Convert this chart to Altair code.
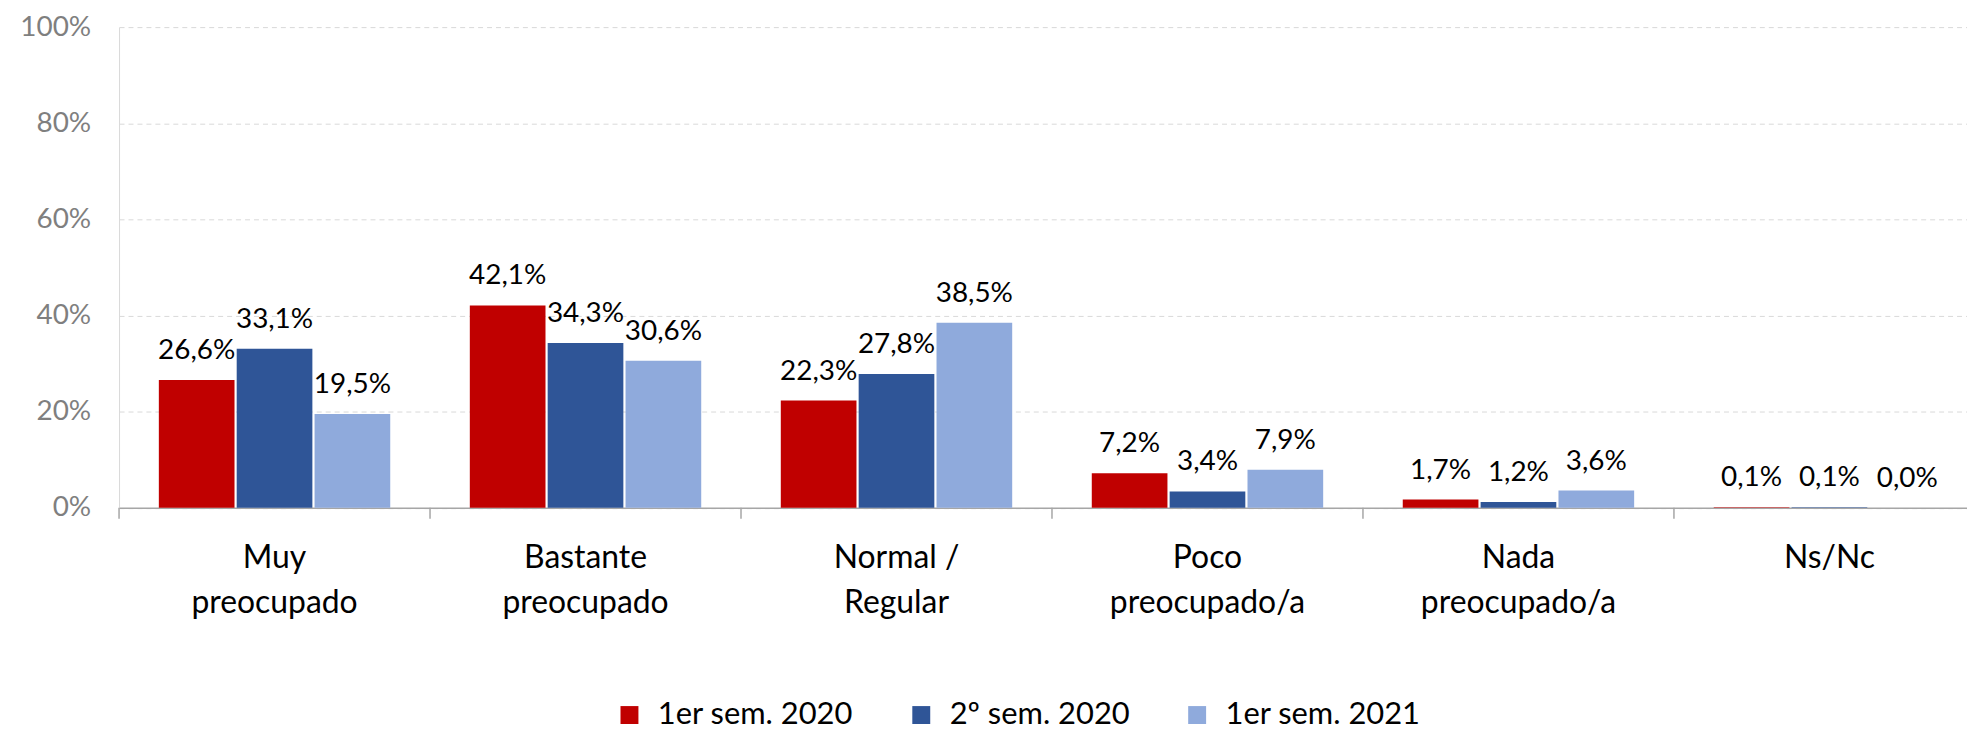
import altair as alt
import pandas as pd

categories = ["Muy\npreocupado", "Bastante\npreocupado", "Normal /\nRegular",
              "Poco\npreocupado/a", "Nada\npreocupado/a", "Ns/Nc"]
series_names = ["1er sem. 2020", "2º sem. 2020", "1er sem. 2021"]
values_2020_1 = [26.6, 42.1, 22.3, 7.2, 1.7, 0.1]
values_2020_2 = [33.1, 34.3, 27.8, 3.4, 1.2, 0.1]
values_2021_1 = [19.5, 30.6, 38.5, 7.9, 3.6, 0.0]
colors = ["#C00000", "#2F5597", "#8FAADC"]
y_ticks = [0, 20, 40, 60, 80, 100]

rows = []
for name, vals in zip(series_names, [values_2020_1, values_2020_2, values_2021_1]):
    for c, v in zip(categories, vals):
        rows.append({"cat": c, "serie": name, "value": v})
df = pd.DataFrame(rows)
df_cats = pd.DataFrame({"cat": categories})

FONT = "Lato"
W = 1855.5
H = 482.6

x_enc = alt.X(
    "cat:N", sort=categories,
    scale=alt.Scale(range=[0, 1873.5], paddingInner=0, paddingOuter=0),
    axis=alt.Axis(title=None, labelAngle=0, ticks=False, domainColor="#A6A6A6",
                  domainWidth=1.5, labelFont=FONT, labelFontSize=32, labelColor="#000000",
                  labelPadding=34.7, labelBaseline="top", labelLineHeight=45,
                  labelExpr="split(datum.label, '\\n')", labelLimit=400, grid=False),
)
xoff = alt.XOffset("serie:N", sort=series_names,
                   scale=alt.Scale(paddingInner=0.028, paddingOuter=0.511))
y_enc = alt.Y(
    "value:Q", scale=alt.Scale(domain=[0, 100], nice=False),
    axis=alt.Axis(title=None, values=y_ticks, labelExpr="datum.value + '%'",
                  ticks=False, domainColor="#D9D9D9", grid=True, gridColor="#D9D9D9",
                  gridDash=[5, 4], labelFont=FONT, labelFontSize=28,
                  labelColor="#7F7F7F", labelPadding=28.5),
)
color_enc = alt.Color(
    "serie:N", sort=series_names,
    scale=alt.Scale(domain=series_names, range=colors),
    legend=alt.Legend(title=None, orient="none", legendX=497, legendY=675,
                      direction="horizontal", symbolType="square", symbolSize=324,
                      symbolStrokeWidth=0, labelFont=FONT, labelFontSize=31,
                      labelColor="#000000", labelOffset=13, columnPadding=52,
                      labelLimit=400, padding=0),
)

bars = alt.Chart(df).mark_bar().encode(x=x_enc, xOffset=xoff, y=y_enc, color=color_enc)

labels = alt.Chart(df).transform_calculate(
    label="replace(format(datum.value, '.1f'), '.', ',') + '%'"
).mark_text(baseline="alphabetic", dy=-21, font=FONT, fontSize=28, color="#000000").encode(
    x=alt.X("cat:N", sort=categories), xOffset=alt.XOffset("serie:N", sort=series_names),
    y="value:Q", text="label:N",
)

ticks = alt.Chart(df_cats).mark_rule(color="#A6A6A6", strokeWidth=1.5).encode(
    x=alt.X("cat:N", sort=categories, bandPosition=0),
    y=alt.value(H), y2=alt.value(H + 11),
)

chart = alt.layer(bars, labels, ticks).properties(
    width=W, height=H,
    autosize=alt.AutoSizeParams(type="none"),
    padding={"left": 111.5, "top": 17.7, "right": 0, "bottom": 222.7},
).configure_view(stroke=None)

chart.save("out.html", embed_options={"renderer": "svg", "actions": False})
